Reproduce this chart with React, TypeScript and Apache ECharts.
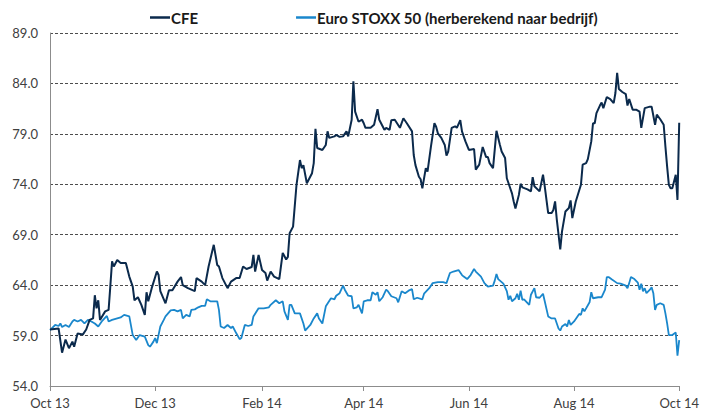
import React, { useEffect, useRef } from "react";
import * as echarts from "echarts";

const cfeDates = [
  "2013-10-01","2013-10-06","2013-10-08","2013-10-10","2013-10-12","2013-10-14","2013-10-15","2013-10-17","2013-10-20","2013-10-22",
  "2013-10-24","2013-10-26","2013-10-27","2013-10-28","2013-10-29","2013-10-30","2013-11-02","2013-11-04","2013-11-05","2013-11-06",
  "2013-11-07","2013-11-09","2013-11-11","2013-11-14","2013-11-16","2013-11-18","2013-11-19","2013-11-21","2013-11-23","2013-11-25",
  "2013-11-26","2013-11-27","2013-11-29","2013-12-02","2013-12-03","2013-12-04","2013-12-07","2013-12-09","2013-12-11","2013-12-14",
  "2013-12-16","2013-12-17","2013-12-20","2013-12-24","2013-12-25","2013-12-28","2013-12-30","2014-01-01","2014-01-04","2014-01-06",
  "2014-01-07","2014-01-09","2014-01-12","2014-01-14","2014-01-17","2014-01-19","2014-01-21","2014-01-23","2014-01-26","2014-01-27",
  "2014-01-28","2014-01-30","2014-02-01","2014-02-03","2014-02-04","2014-02-06","2014-02-08","2014-02-11","2014-02-13","2014-02-15",
  "2014-02-16","2014-02-17","2014-02-19","2014-02-21","2014-02-23","2014-02-24","2014-02-25","2014-02-27","2014-03-02","2014-03-03",
  "2014-03-04","2014-03-05","2014-03-08","2014-03-10","2014-03-11","2014-03-12","2014-03-15","2014-03-16","2014-03-18","2014-03-20",
  "2014-03-22","2014-03-23","2014-03-25","2014-03-26","2014-03-27","2014-03-29","2014-03-31","2014-04-01","2014-04-02","2014-04-05",
  "2014-04-07","2014-04-09","2014-04-10","2014-04-13","2014-04-14","2014-04-16","2014-04-17","2014-04-19","2014-04-22","2014-04-24",
  "2014-04-26","2014-04-29","2014-04-30","2014-05-01","2014-05-03","2014-05-04","2014-05-05","2014-05-07","2014-05-08","2014-05-10",
  "2014-05-12","2014-05-13","2014-05-14","2014-05-16","2014-05-18","2014-05-19","2014-05-20","2014-05-22","2014-05-24","2014-05-25",
  "2014-05-27","2014-05-28","2014-05-30","2014-06-01","2014-06-04","2014-06-05","2014-06-07","2014-06-09","2014-06-11","2014-06-12",
  "2014-06-13","2014-06-15","2014-06-17","2014-06-19","2014-06-20","2014-06-22","2014-06-23","2014-06-24","2014-06-26","2014-06-27",
  "2014-06-28","2014-06-30","2014-07-01","2014-07-02","2014-07-05","2014-07-07","2014-07-08","2014-07-09","2014-07-12","2014-07-14",
  "2014-07-15","2014-07-17","2014-07-19","2014-07-20","2014-07-21","2014-07-22","2014-07-24","2014-07-25","2014-07-27","2014-07-29",
  "2014-07-30","2014-07-31","2014-08-02","2014-08-05","2014-08-06","2014-08-08","2014-08-09","2014-08-11","2014-08-12","2014-08-13",
  "2014-08-14","2014-08-16","2014-08-17","2014-08-18","2014-08-20","2014-08-22","2014-08-24","2014-08-25","2014-08-26","2014-08-27",
  "2014-08-29","2014-08-31","2014-09-01","2014-09-02","2014-09-04","2014-09-06","2014-09-08","2014-09-09","2014-09-11","2014-09-14",
  "2014-09-15","2014-09-17","2014-09-18","2014-09-20","2014-09-22","2014-09-23","2014-09-24","2014-09-25","2014-09-26","2014-09-27",
  "2014-09-29","2014-09-30","2014-10-01"
];
const cfeValues = [
  59.6,59.7,57.3,58.6,57.75,58.4,57.9,59.2,59.1,59.6,
  60.55,60.7,63.0,61.7,62.5,60.55,61.4,61.55,63.9,66.35,
  65.85,66.5,66.2,66.2,64.85,63.85,62.5,62.8,62.05,61.05,
  63.3,62.4,63.7,65.35,65.0,63.4,62.2,63.5,63.5,64.35,
  64.8,64.0,63.7,63.4,64.7,64.35,64.0,65.85,68.0,66.0,
  65.85,64.7,63.7,64.35,64.7,64.7,65.85,65.6,65.8,67.0,
  65.35,67.0,65.5,65.2,64.45,65.35,64.85,64.6,67.2,66.55,
  66.8,69.15,69.8,73.95,76.4,75.6,75.9,74.1,75.1,76.1,
  79.5,77.6,77.4,77.9,79.25,78.6,78.75,78.9,78.7,78.75,
  79.25,78.75,80.4,84.2,81.2,80.2,80.4,80.05,79.6,79.6,
  79.9,81.45,80.4,79.4,79.6,79.4,80.35,80.4,79.6,80.55,
  80.05,79.25,76.9,75.9,74.75,74.5,73.6,75.6,75.25,77.75,
  80.05,79.7,79.05,78.6,77.9,76.85,77.25,79.6,79.75,79.6,
  80.35,79.25,78.25,77.4,77.5,75.45,75.95,77.7,76.7,76.7,
  76.1,75.6,79.3,77.9,77.25,76.6,74.6,74.1,73.1,72.3,
  71.6,72.95,74.05,73.7,73.5,73.3,74.7,73.8,73.3,74.95,
  73.8,71.15,71.15,71.45,72.3,70.5,67.55,69.3,71.3,71.65,
  72.4,70.65,72.3,73.95,75.95,76.1,76.5,78.25,80.05,80.05,
  81.05,81.8,82.1,81.55,82.65,82.45,82.05,83.05,85.05,83.45,
  83.15,82.95,81.8,82.45,81.4,81.4,81.2,79.6,81.55,81.7,
  81.7,79.9,80.9,80.45,79.9,77.75,75.75,73.95,73.6,73.6,
  74.95,72.45,80.1
];

const stoxxDates = [
  "2013-10-01","2013-10-04","2013-10-06","2013-10-07","2013-10-08","2013-10-10","2013-10-12","2013-10-14","2013-10-15","2013-10-17",
  "2013-10-19","2013-10-21","2013-10-23","2013-10-25","2013-10-27","2013-10-29","2013-10-31","2013-11-03","2013-11-04","2013-11-06",
  "2013-11-09","2013-11-11","2013-11-13","2013-11-16","2013-11-18","2013-11-20","2013-11-22","2013-11-25","2013-11-27","2013-11-28",
  "2013-11-30","2013-12-01","2013-12-02","2013-12-04","2013-12-06","2013-12-07","2013-12-10","2013-12-12","2013-12-14","2013-12-16",
  "2013-12-17","2013-12-19","2013-12-21","2013-12-22","2013-12-24","2013-12-26","2013-12-28","2013-12-30","2013-12-31","2014-01-02",
  "2014-01-06","2014-01-07","2014-01-08","2014-01-10","2014-01-12","2014-01-14","2014-01-15","2014-01-17","2014-01-19","2014-01-20",
  "2014-01-22","2014-01-24","2014-01-26","2014-01-27","2014-01-30","2014-02-02","2014-02-05","2014-02-06","2014-02-09","2014-02-11",
  "2014-02-13","2014-02-14","2014-02-16","2014-02-17","2014-02-18","2014-02-20","2014-02-23","2014-02-25","2014-02-26","2014-03-01",
  "2014-03-03","2014-03-05","2014-03-06","2014-03-08","2014-03-10","2014-03-13","2014-03-15","2014-03-16","2014-03-18","2014-03-20",
  "2014-03-21","2014-03-23","2014-03-25","2014-03-26","2014-03-28","2014-03-29","2014-03-31","2014-04-01","2014-04-03","2014-04-05",
  "2014-04-06","2014-04-08","2014-04-09","2014-04-10","2014-04-12","2014-04-14","2014-04-15","2014-04-17","2014-04-20","2014-04-21",
  "2014-04-23","2014-04-25","2014-04-27","2014-04-29","2014-04-30","2014-05-02","2014-05-05","2014-05-06","2014-05-09","2014-05-11",
  "2014-05-14","2014-05-17","2014-05-19","2014-05-21","2014-05-23","2014-05-26","2014-05-28","2014-05-29","2014-05-31","2014-06-02",
  "2014-06-04","2014-06-05","2014-06-08","2014-06-10","2014-06-12","2014-06-15","2014-06-16","2014-06-17","2014-06-18","2014-06-21",
  "2014-06-23","2014-06-24","2014-06-25","2014-06-26","2014-06-28","2014-06-29","2014-06-30","2014-07-01","2014-07-02","2014-07-03",
  "2014-07-06","2014-07-07","2014-07-09","2014-07-10","2014-07-12","2014-07-14","2014-07-15","2014-07-17","2014-07-19","2014-07-21",
  "2014-07-23","2014-07-24","2014-07-25","2014-07-27","2014-07-28","2014-07-29","2014-07-30","2014-08-01","2014-08-04","2014-08-05",
  "2014-08-06","2014-08-07","2014-08-10","2014-08-11","2014-08-12","2014-08-15","2014-08-17","2014-08-19","2014-08-20","2014-08-21",
  "2014-08-23","2014-08-26","2014-08-28","2014-08-31","2014-09-01","2014-09-02","2014-09-03","2014-09-05","2014-09-07","2014-09-08",
  "2014-09-09","2014-09-10","2014-09-11","2014-09-12","2014-09-14","2014-09-15","2014-09-16","2014-09-17","2014-09-18","2014-09-20",
  "2014-09-22","2014-09-23","2014-09-24","2014-09-25","2014-09-27","2014-09-29","2014-09-30","2014-10-01"
];
const stoxxValues = [
  59.55,60.05,59.95,60.2,59.85,60.05,59.85,60.4,60.55,60.4,
  60.55,60.2,60.55,60.4,60.2,59.9,60.4,60.95,60.4,60.55,
  60.7,60.8,61.05,60.9,59.05,58.55,59.05,58.9,58.05,57.9,
  58.4,58.75,58.25,59.9,60.55,60.9,61.5,61.55,61.4,61.55,
  60.7,61.05,60.9,61.55,61.6,61.8,61.95,61.95,62.6,62.4,
  62.4,61.55,59.9,59.75,60.05,59.75,59.9,59.25,58.65,58.75,
  60.05,59.95,60.05,60.9,61.7,61.7,61.8,62.05,62.5,62.2,
  62.4,61.4,60.55,62.05,62.05,61.2,61.2,60.2,59.5,60.05,
  60.7,61.2,60.7,60.2,61.9,62.7,62.6,62.95,63.2,63.95,
  63.55,62.95,62.9,61.7,61.8,62.05,61.2,62.4,62.5,62.5,
  63.3,63.05,63.3,62.4,62.8,63.55,63.4,62.9,62.7,62.3,
  63.4,63.2,63.45,63.6,62.6,62.75,62.6,63.15,63.7,64.2,
  64.3,64.3,64.2,65.2,65.35,65.5,65.0,64.85,64.6,65.0,
  65.6,65.35,64.85,64.2,63.85,63.95,64.45,65.1,64.6,64.15,
  63.4,62.55,62.95,62.4,62.7,63.15,62.55,63.45,62.55,62.6,
  62.05,63.05,63.7,62.8,62.75,63.15,62.4,60.9,60.7,60.7,
  59.7,59.5,59.9,60.15,59.9,60.55,60.05,60.4,61.15,61.05,
  61.7,61.4,62.3,63.3,62.7,62.8,62.8,63.55,64.8,64.8,
  64.55,64.2,64.15,63.95,63.7,64.2,64.8,64.6,64.25,63.55,
  64.15,63.4,63.7,63.2,63.55,63.8,63.2,61.55,62.05,62.2,
  62.05,61.2,60.2,59.05,59.05,59.3,57.0,58.55
];

const xTickDates = ["2013-10-01","2013-12-01","2014-02-01","2014-04-01","2014-06-01","2014-08-01","2014-10-01"];
const xTickLabels = ["Oct 13","Dec 13","Feb 14","Apr 14","Jun 14","Aug 14","Oct 14"];
const yTicks = [54, 59, 64, 69, 74, 79, 84, 89];

const seriesNames = ["CFE", "Euro STOXX 50 (herberekend naar bedrijf)"];
const seriesColors = ["#0b2a4c", "#1a87cc"];

function ts(s: string): number {
  const [y, m, d] = s.split("-").map(Number);
  return new Date(y, m - 1, d).getTime();
}

export default function App() {
  const ref = useRef<HTMLDivElement>(null);
  useEffect(() => {
    if (!ref.current) return;
    const chart = echarts.init(ref.current, null, { renderer: "svg" });
    const xTicks = xTickDates.map(ts);
    const font = "Lato, 'Open Sans', sans-serif";
    chart.setOption({
      animation: false,
      backgroundColor: "#ffffff",
      textStyle: { fontFamily: font },
      grid: { left: 50, right: 21, top: 33, bottom: 33, containLabel: false },
      legend: {
        top: 5,
        left: 145,
        itemGap: 98,
        icon: "rect",
        itemWidth: 20,
        itemHeight: 2.5,
        textStyle: { fontFamily: font, fontSize: 15, fontWeight: "bold", color: "#1a1a1a", padding: [0, 0, 0, -4] },
        data: seriesNames,
      },
      xAxis: {
        type: "value",
        min: xTicks[0],
        max: xTicks[xTicks.length - 1],
        axisLine: { show: true, onZero: false, lineStyle: { color: "#8c8c8c", width: 1 } },
        axisTick: { show: true, length: 5, inside: false, customValues: xTicks, lineStyle: { color: "#8c8c8c" } },
        axisLabel: {
          customValues: xTicks,
          margin: 10,
          fontSize: 13,
          color: "#404040",
          fontFamily: font,
          formatter: (v: number) => {
            const i = xTicks.indexOf(v);
            return i >= 0 ? xTickLabels[i] : "";
          },
        },
        splitLine: { show: false },
      },
      yAxis: {
        type: "value",
        min: yTicks[0],
        max: yTicks[yTicks.length - 1],
        axisLine: { show: true, lineStyle: { color: "#8c8c8c", width: 1 } },
        axisTick: { show: false, customValues: yTicks },
        axisLabel: {
          customValues: yTicks,
          margin: 12,
          fontSize: 13,
          color: "#404040",
          fontFamily: font,
          formatter: (v: number) => v.toFixed(1),
        },
        splitLine: { show: true, lineStyle: { color: "#4d4d4d", type: [3, 2], width: 1 } },
      },
      series: [
        {
          name: seriesNames[1],
          type: "line",
          showSymbol: false,
          symbol: "none",
          color: seriesColors[1],
          lineStyle: { width: 1.8, color: seriesColors[1] },
          data: stoxxDates.map((d, i) => [ts(d), stoxxValues[i]]),
          z: 2,
        },
        {
          name: seriesNames[0],
          type: "line",
          showSymbol: false,
          symbol: "none",
          color: seriesColors[0],
          lineStyle: { width: 2, color: seriesColors[0] },
          data: cfeDates.map((d, i) => [ts(d), cfeValues[i]]),
          z: 3,
        },
      ],
    });
    return () => chart.dispose();
  }, []);
  return <div ref={ref} style={{ width: 702, height: 419, position: "absolute", left: 0, top: 0 }} />;
}
